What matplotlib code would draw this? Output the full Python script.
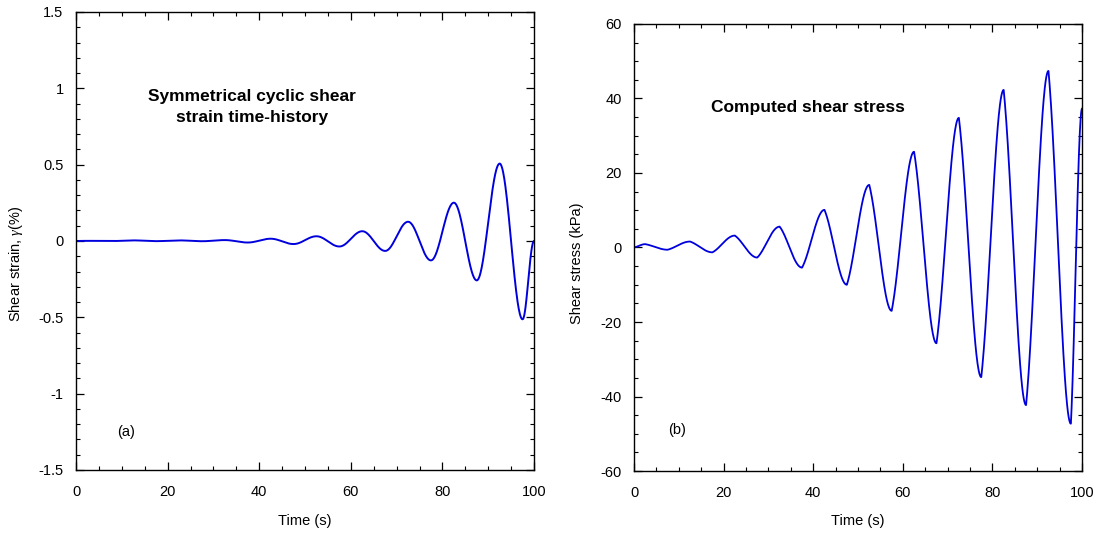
import numpy as np
import matplotlib
matplotlib.use("Agg")
import matplotlib.pyplot as plt
from matplotlib.ticker import MultipleLocator

plt.rcParams['font.family'] = ['Liberation Sans', 'DejaVu Sans']
plt.rcParams['mathtext.fontset'] = 'custom'
plt.rcParams['mathtext.it'] = 'Liberation Serif:italic'
plt.rcParams['axes.unicode_minus'] = False

# times of the turning points (s)
t_knots = [0, 2.5, 7.5, 12.5, 17.5, 22.5, 27.5, 32.5, 37.5, 42.5, 47.5,
           52.5, 57.5, 62.5, 67.5, 72.5, 77.5, 82.5, 87.5, 92.5, 97.5, 100]

# shear strain at the turning points (%)
strain_knots = [0, 0.001, -0.0005, 0.004, -0.001, 0.004, -0.0015, 0.006, -0.01,
                0.015, -0.02, 0.031, -0.036, 0.064, -0.065, 0.126, -0.127,
                0.251, -0.258, 0.507, -0.513, 0.0]

# shear stress at the turning points (kPa)
stress_knots = [0, 0.9, -0.6, 1.6, -1.3, 3.2, -2.7, 5.6, -5.4, 10.1, -10.0,
                16.8, -17.0, 25.7, -25.7, 34.8, -34.8, 42.3, -42.3, 47.4, -47.3, 37.3]


def trace(tk, yk, w):
    # joins the turning points; w > 0 makes the curve leave each reversal steeply
    ts, ys = [], []
    for i in range(len(tk) - 1):
        s = np.linspace(0, 1, 60, endpoint=False)
        f = w * np.sin(np.pi * s / 2) + (1 - w) * (1 - np.cos(np.pi * s)) / 2
        ts.append(tk[i] + (tk[i + 1] - tk[i]) * s)
        ys.append(yk[i] + (yk[i + 1] - yk[i]) * f)
    ts.append([tk[-1]])
    ys.append([yk[-1]])
    return np.concatenate(ts), np.concatenate(ys)


t1, g = trace(t_knots, strain_knots, 0.0)
t2, tau = trace(t_knots, stress_knots, 0.45)

fig = plt.figure(figsize=(10.97, 5.33), dpi=100)
ax1 = fig.add_axes([0.0693, 0.1182, 0.4175, 0.8593])
ax2 = fig.add_axes([0.578, 0.1163, 0.4084, 0.8387])

col = '#0000dd'
ax1.plot(t1, g, color=col, lw=1.4)
ax2.plot(t2, tau, color=col, lw=1.3)

ax1.set_xlim(0, 100)
ax1.set_ylim(-1.5, 1.5)
ax1.xaxis.set_major_locator(MultipleLocator(20))
ax1.xaxis.set_minor_locator(MultipleLocator(5))
ax1.yaxis.set_minor_locator(MultipleLocator(0.1))
ax1.set_yticks([-1.5, -1, -0.5, 0, 0.5, 1, 1.5])
ax1.set_yticklabels(['-1.5', '-1', '-0.5', '0', '0.5', '1', '1.5'])

ax2.set_xlim(0, 100)
ax2.set_ylim(-60, 60)
ax2.xaxis.set_major_locator(MultipleLocator(20))
ax2.xaxis.set_minor_locator(MultipleLocator(5))
ax2.yaxis.set_major_locator(MultipleLocator(20))
ax2.yaxis.set_minor_locator(MultipleLocator(5))

for ax in (ax1, ax2):
    ax.tick_params(which='both', direction='in', top=True, right=True,
                   labelsize=10.5)
    ax.tick_params(axis='x', which='both', pad=11)
    ax.tick_params(axis='y', which='both', pad=9)
    ax.tick_params(which='major', length=6, width=0.9)
    ax.tick_params(which='minor', length=3, width=0.8)
    for sp in ax.spines.values():
        sp.set_linewidth(1.0)
    ax.set_xlabel('Time (s)', fontsize=10.5)

ax1.xaxis.set_label_coords(0.5, -0.096)
ax2.xaxis.set_label_coords(0.5, -0.096)
ax1.set_ylabel(r'Shear strain, $\gamma$(%)', fontsize=10.5)
ax1.yaxis.set_label_coords(-0.111, 0.45)
ax2.set_ylabel('Shear stress (kPa)', fontsize=10.5)
ax2.yaxis.set_label_coords(-0.112, 0.465)

ax1.text(38.4, 0.88, 'Symmetrical cyclic shear\nstrain time-history', ha='center',
         va='center', fontsize=12.5, fontweight='bold', linespacing=1.5)
ax1.text(10.9, -1.25, '(a)', ha='center', va='center', fontsize=10.5)

ax2.text(38.9, 37.7, 'Computed shear stress', ha='center', va='center',
         fontsize=12.5, fontweight='bold')
ax2.text(9.6, -49, '(b)', ha='center', va='center', fontsize=10.5)

fig.savefig('out.png', dpi=100)
